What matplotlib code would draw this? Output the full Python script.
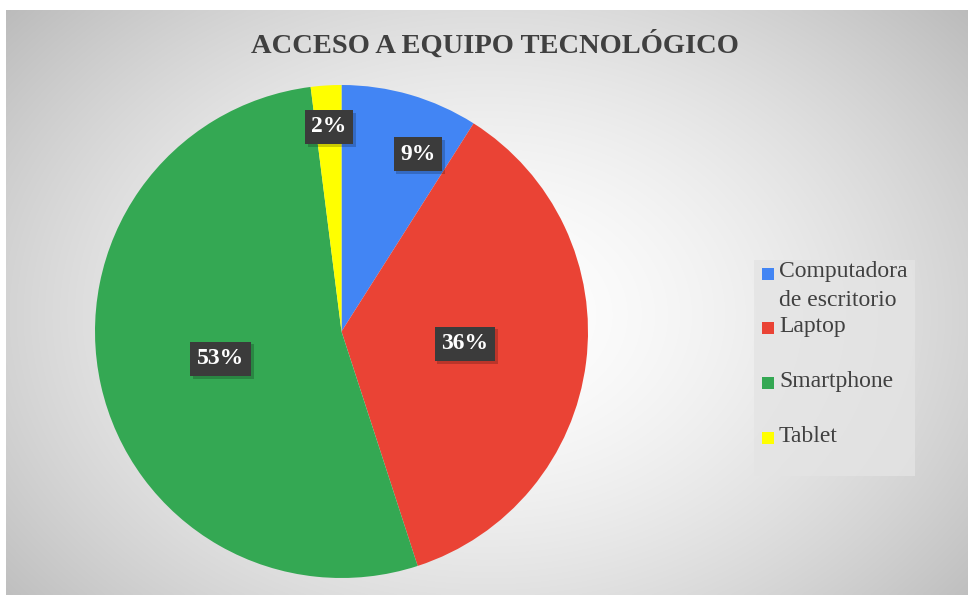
import numpy as np
import matplotlib.pyplot as plt
import matplotlib.patheffects as pe
from matplotlib.patches import Rectangle

categorias = ['Computadora\nde escritorio', 'Laptop', 'Smartphone', 'Tablet']
porcentajes = [9, 36, 53, 2]
colores = ['#4285F4', '#EA4335', '#34A853', '#FFFF00']
titulo = 'ACCESO A EQUIPO TECNOLÓGICO'

# posiciones de las etiquetas (en radios del pastel)
pos_etiquetas = [(0.31, 0.72), (0.50, -0.05), (-0.49, -0.11), (-0.05, 0.83)]

fig = plt.figure(figsize=(9.68, 5.95), dpi=100)
fig.patch.set_facecolor('white')

# fondo con degradado radial
bg = fig.add_axes([6 / 968, 0, 1 - 6 / 968, 1 - 10 / 595])
bg.set_zorder(-1)
ny, nx = 300, 500
yy, xx = np.mgrid[0:ny, 0:nx]
cx, cy = 0.50 * nx, 0.52 * ny
d = np.sqrt(((xx - cx) / (nx * 0.62)) ** 2 + ((yy - cy) / (ny * 0.75)) ** 2)
g = 1.0 - 0.24 * np.clip(d, 0, 1.2) ** 1.6
bg.imshow(np.dstack([g, g, g]), aspect='auto', extent=[0, 1, 0, 1], interpolation='bilinear')
bg.axis('off')

ax = fig.add_axes([95 / 968, 17 / 595, 493 / 968, 493 / 595])
wedges, _ = ax.pie(porcentajes, colors=colores, startangle=90, counterclock=False,
                   wedgeprops=dict(linewidth=0))
ax.set_xlim(-1, 1)
ax.set_ylim(-1, 1)
ax.set_aspect('equal')

for p, (x, y) in zip(porcentajes, pos_etiquetas):
    t = ax.text(x, y, f'{p}%', ha='center', va='center', color='white',
                fontsize=17, fontweight='bold', family='Liberation Serif',
                bbox=dict(boxstyle='square,pad=0.28', fc='#3b3b3b', ec='none'))
    t.get_bbox_patch().set_path_effects([
        pe.SimplePatchShadow(offset=(2, -2), shadow_rgbFace='black', alpha=0.2),
        pe.Normal()])

fig.text(495 / 968, 1 - 45 / 595, titulo, ha='center', va='center',
         fontsize=20.5, fontweight='bold', family='Liberation Serif', color='#404040')

# leyenda
fig.patches.append(Rectangle((754 / 968, 1 - 476 / 595), 161 / 968, 216 / 595,
                             transform=fig.transFigure, fc='#e4e4e4', ec='none',
                             alpha=0.8, zorder=2))
ys = [274, 328, 383, 438]
for nombre, col, y in zip(categorias, colores, ys):
    fig.patches.append(Rectangle((762 / 968, 1 - (y + 6) / 595), 12 / 968, 12 / 595,
                                 transform=fig.transFigure, fc=col, ec='none', zorder=3))
    fig.text(779 / 968, 1 - (y - 2) / 595, nombre.split('\n')[0], ha='left', va='center',
             fontsize=17, family='Liberation Serif', color='#404040', zorder=4)
    if '\n' in nombre:
        fig.text(779 / 968, 1 - (y + 26) / 595, nombre.split('\n')[1], ha='left',
                 va='center', fontsize=17, family='Liberation Serif', color='#404040',
                 zorder=4)

fig.savefig('out.png', dpi=100)
